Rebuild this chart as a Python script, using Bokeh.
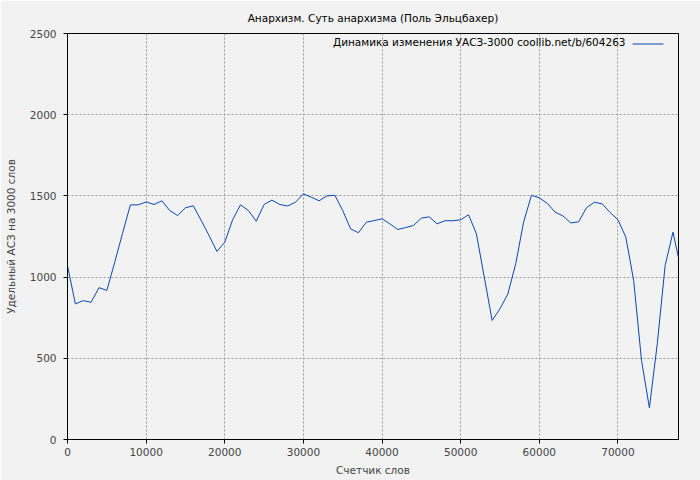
from bokeh.plotting import figure
from bokeh.models import Label, Range1d, FixedTicker, BoxAnnotation
from bokeh.embed import file_html
from bokeh.resources import INLINE

title_text = "Анархизм. Суть анархизма (Поль Эльцбахер)"
legend_text = "Динамика изменения УАСЗ-3000 coollib.net/b/604263"
x_label = "Счетчик слов"
y_label = "Удельный АСЗ на 3000 слов"

words = [0, 1000, 2000, 3000, 4000, 5000, 6000, 7000, 8000, 9000,
         10000, 11000, 12000, 13000, 14000, 15000, 16000, 17000, 18000, 19000,
         20000, 21000, 22000, 23000, 24000, 25000, 26000, 27000, 28000, 29000,
         30000, 31000, 32000, 33000, 34000, 35000, 36000, 37000, 38000, 39000,
         40000, 41000, 42000, 43000, 44000, 45000, 46000, 47000, 48000, 49000,
         50000, 51000, 52000, 53000, 54000, 55000, 56000, 57000, 58000, 59000,
         60000, 61000, 62000, 63000, 64000, 65000, 66000, 67000, 68000, 69000,
         70000, 71000, 72000, 73000, 74000, 75000, 76000, 77000, 77700]
uasz = [1070, 835, 855, 845, 935, 918, 1090, 1270, 1445, 1445,
        1463, 1447, 1470, 1410, 1379, 1427, 1439, 1349, 1256, 1158,
        1215, 1353, 1445, 1410, 1344, 1447, 1474, 1447, 1438, 1461,
        1513, 1492, 1470, 1500, 1504, 1410, 1297, 1273, 1338, 1348,
        1359, 1328, 1293, 1305, 1318, 1363, 1371, 1328, 1347, 1347,
        1353, 1384, 1267, 1000, 733, 805, 897, 1082, 1338, 1504,
        1488, 1455, 1400, 1377, 1334, 1340, 1427, 1461, 1451, 1398,
        1353, 1246, 979, 486, 195, 589, 1071, 1277, 1120]

x_ticks = [0, 10000, 20000, 30000, 40000, 50000, 60000, 70000]
y_ticks = [0, 500, 1000, 1500, 2000, 2500]

BG = "#f2f2f2"
FONT = "DejaVu Sans"
LINE = "#0a47b0"
TXT = "10.5px"

p = figure(frame_width=611, frame_height=406, output_backend="svg", toolbar_location=None,
           x_range=Range1d(0, 77700), y_range=Range1d(0, 2500),
           min_border_left=67, min_border_right=22, min_border_top=33, min_border_bottom=41)
p.title.text = title_text
p.title.align = "center"
p.title.vertical_align = "middle"
p.title.text_font = FONT
p.title.text_font_size = TXT
p.title.text_font_style = "normal"
p.title.text_color = "black"
p.title.standoff = 18

p.background_fill_color = BG
p.border_fill_color = BG
p.outline_line_color = "black"
p.outline_line_width = 1

p.line(words, uasz, line_color=LINE, line_width=1)

for ax in (p.xaxis[0], p.yaxis[0]):
    ax.major_label_text_font = FONT
    ax.major_label_text_font_size = TXT
    ax.axis_label_text_font = FONT
    ax.axis_label_text_font_size = TXT
    ax.axis_label_text_font_style = "normal"
    ax.major_tick_in = 0
    ax.major_tick_out = 4
    ax.minor_tick_line_color = None
    ax.axis_line_color = "black"
    ax.major_tick_line_color = "black"

p.xaxis[0].ticker = FixedTicker(ticks=x_ticks)
p.yaxis[0].ticker = FixedTicker(ticks=y_ticks)
p.xaxis[0].axis_label = x_label
p.yaxis[0].axis_label = y_label
p.yaxis[0].major_label_orientation = "horizontal"
p.xaxis[0].major_label_standoff = 4
p.xaxis[0].axis_label_standoff = 5
p.yaxis[0].major_label_standoff = 7
p.yaxis[0].axis_label_standoff = 10

for g in (p.xgrid[0], p.ygrid[0]):
    g.grid_line_color = "#999999"
    g.grid_line_dash = "2 2"
    g.grid_line_width = 1

legend = Label(x=558, y=397.5, x_units="screen", y_units="screen", text=legend_text,
               text_font=FONT, text_font_size=TXT, text_align="right",
               text_baseline="middle", text_color="black")
p.add_layout(legend)
legend_line = BoxAnnotation(left=565, right=596, bottom=395, top=396,
                            left_units="screen", right_units="screen",
                            bottom_units="screen", top_units="screen",
                            fill_color=LINE, fill_alpha=1, line_color=None)
p.add_layout(legend_line)

open("out.html", "w").write(file_html(p, INLINE))
